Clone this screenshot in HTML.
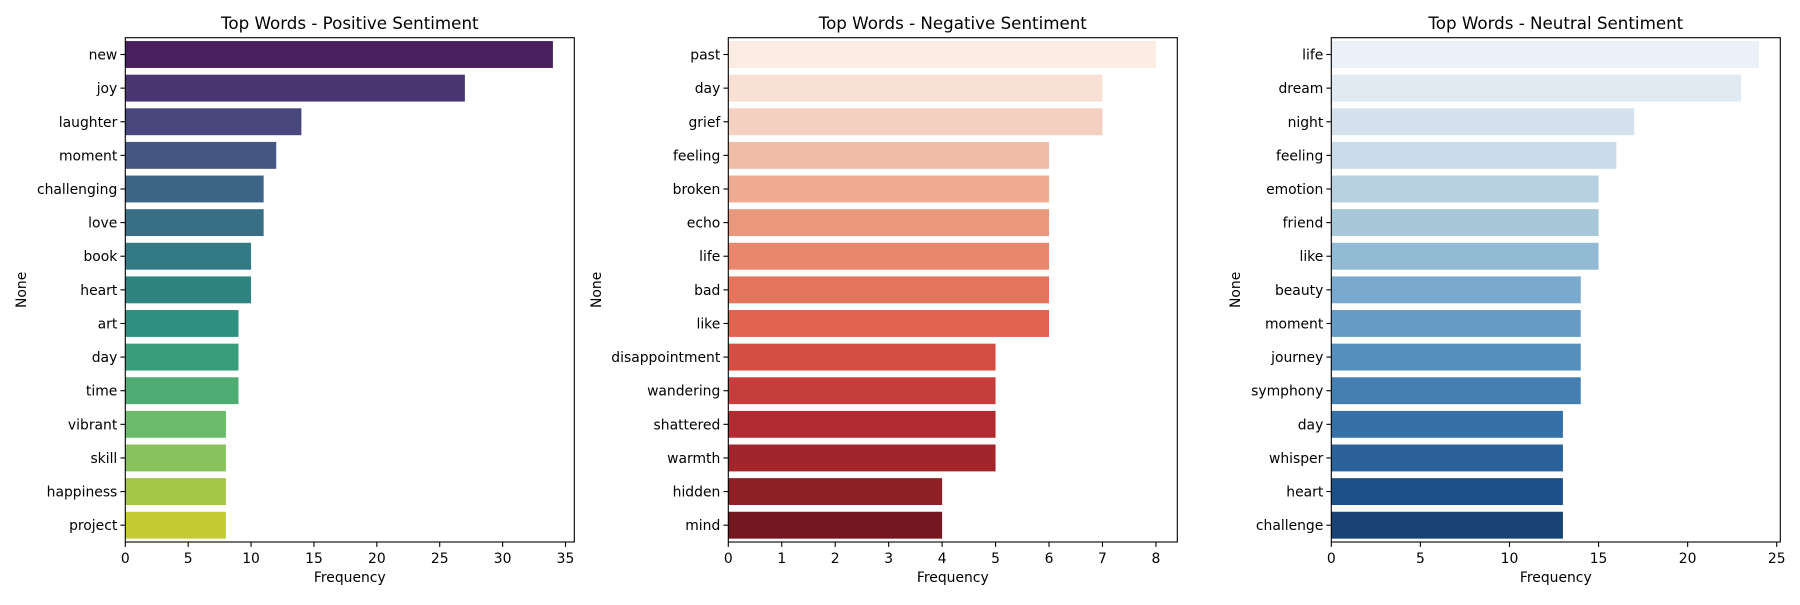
<!DOCTYPE html>
<html><head><meta charset="utf-8"><style>
html,body{margin:0;padding:0;background:#fff;}
svg text{font-family:"DejaVu Sans","Liberation Sans",sans-serif;fill:#000;}
</style></head><body>
<svg id="fig" width="1800" height="600" xmlns="http://www.w3.org/2000/svg"></svg>
<script>
const posWords = ["new","joy","laughter","moment","challenging","love","book","heart","art","day","time","vibrant","skill","happiness","project"];
const posValues = [34,27,14,12,11,11,10,10,9,9,9,8,8,8,8];
const negWords = ["past","day","grief","feeling","broken","echo","life","bad","like","disappointment","wandering","shattered","warmth","hidden","mind"];
const negValues = [8,7,7,6,6,6,6,6,6,5,5,5,5,4,4];
const neuWords = ["life","dream","night","feeling","emotion","friend","like","beauty","moment","journey","symphony","day","whisper","heart","challenge"];
const neuValues = [24,23,17,16,15,15,15,14,14,14,14,13,13,13,13];
const posTicks = [0,5,10,15,20,25,30,35];
const negTicks = [0,1,2,3,4,5,6,7,8];
const neuTicks = [0,5,10,15,20,25];
const posColors = ["#491f60","#4a3673","#48477d","#445681","#3e6586","#386f86","#337a84","#2f8482","#309080","#389d7b","#4eac72","#6bbb6a","#88c25d","#a4c646","#c3cc32"];
const negColors = ["#fbece4","#f8e0d5","#f5cfc0","#f1bca7","#eeab91","#ea987c","#e8876b","#e5745d","#e0624f","#d44e43","#c63e3b","#b22b30","#a1252a","#8e1f26","#731820"];
const neuColors = ["#ebf1f8","#e0eaf3","#d5e2ee","#c9dbe9","#b7d0e0","#a6c8d9","#92bad4","#79a9cc","#679dc5","#558fbd","#447fb1","#3571a6","#2a6299","#1d5089","#1a4272"];

const NS="http://www.w3.org/2000/svg";
const svg=document.getElementById('fig');
function mk(tag,attrs,parent){const e=document.createElementNS(NS,tag);for(const k in attrs)e.setAttribute(k,attrs[k]);(parent||svg).appendChild(e);return e;}

const TOP=37.7, BOT=542;
function panel(key,left,words,values,ticks,colors,title,ylabelX){
  const right=left+449;
  const g=mk('g',{});
  
  
  const xmax=Math.max(...values)*1.05;
  const xs=v=>left+(v/xmax)*(right-left);
  const n=words.length;
  const band=(BOT-TOP)/n;
  const yc=i=>TOP+(i+0.5)*band;
  for(let i=0;i<n;i++){
    const r=mk('rect',{x:xs(0),y:yc(i)-band*0.4,width:xs(values[i])-xs(0),height:band*0.8,fill:colors[i]},g);
    
    
    mk('line',{x1:left-4.9,x2:left,y1:yc(i),y2:yc(i),stroke:'#000','stroke-width':1.1},g);
    const t=mk('text',{x:left-8,y:yc(i)+5,'text-anchor':'end','font-size':13.9},g);
    t.textContent=words[i];
    
    
  }
  for(const tv of ticks){
    mk('line',{x1:xs(tv),x2:xs(tv),y1:BOT,y2:BOT+4.9,stroke:'#000','stroke-width':1.1},g);
    const t=mk('text',{x:xs(tv),y:BOT+21,'text-anchor':'middle','font-size':13.9},g);
    t.textContent=tv;
    
    
  }
  const fr=mk('rect',{x:left,y:TOP,width:right-left,height:BOT-TOP,fill:'none',stroke:'#000','stroke-width':1.1},g);
  
  
  const tt=mk('text',{x:(left+right)/2,y:29,'text-anchor':'middle','font-size':16.7},g);
  tt.textContent=title;
  
  
  const xl=mk('text',{x:(left+right)/2,y:582,'text-anchor':'middle','font-size':13.9},g);
  xl.textContent='Frequency';
  
  
  const yl=mk('text',{x:0,y:0,'text-anchor':'middle','font-size':13.9,transform:`translate(${ylabelX},${(TOP+BOT)/2}) rotate(-90)`},g);
  yl.textContent='None';
  
  
}
panel('positive',125.3,posWords,posValues,posTicks,posColors,'Top Words - Positive Sentiment',26);
panel('negative',728.3,negWords,negValues,negTicks,negColors,'Top Words - Negative Sentiment',601);
panel('neutral',1331.3,neuWords,neuValues,neuTicks,neuColors,'Top Words - Neutral Sentiment',1240);
</script>
</body></html>
